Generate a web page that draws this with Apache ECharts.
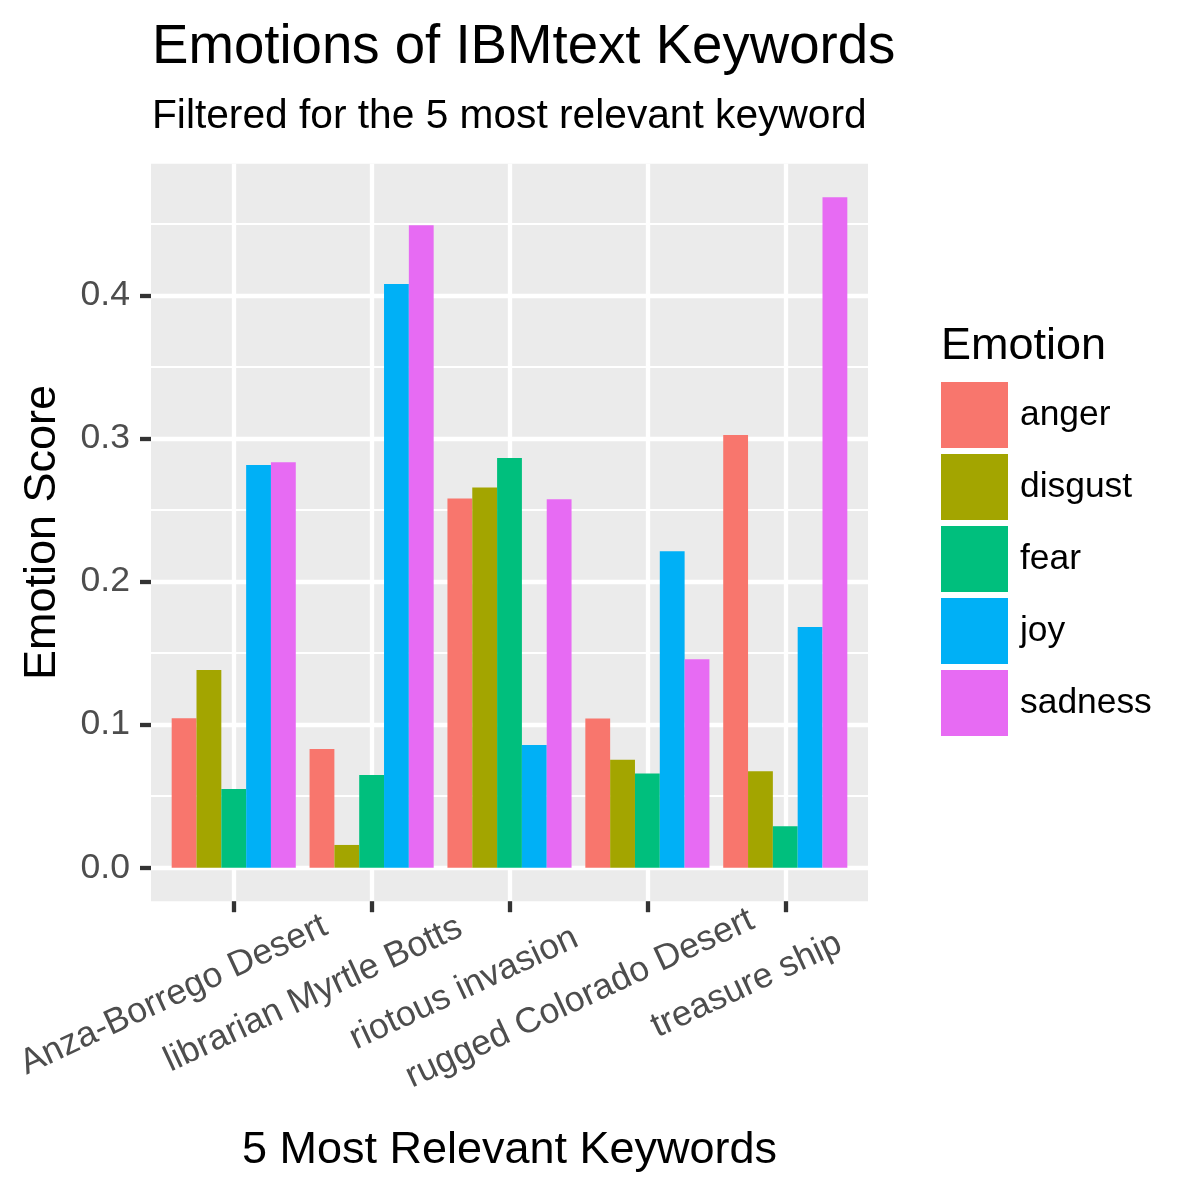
<!DOCTYPE html>
<html>
<head>
<meta charset="utf-8">
<script src="https://cdn.jsdelivr.net/npm/echarts@6/dist/echarts.min.js"></script>
<style>
html,body{margin:0;padding:0;background:#fff;}
#chart{width:1200px;height:1200px;}
</style>
</head>
<body>
<div id="chart"></div>
<script>
const keywords = ['Anza-Borrego Desert', 'librarian Myrtle Botts', 'riotous invasion', 'rugged Colorado Desert', 'treasure ship'];
const emotions = ['anger', 'disgust', 'fear', 'joy', 'sadness'];
const anger   = [0.1044, 0.0829, 0.2580, 0.1043, 0.3023];
const disgust = [0.1382, 0.0159, 0.2657, 0.0754, 0.0674];
const fear    = [0.0550, 0.0648, 0.2863, 0.0658, 0.0289];
const joy     = [0.2814, 0.4079, 0.0857, 0.2211, 0.1682];
const sadness = [0.2834, 0.4490, 0.2574, 0.1457, 0.4685];
const yTicks = [0, 0.1, 0.2, 0.3, 0.4];
const colors = ['#F8766D', '#A3A500', '#00BF7D', '#00B0F6', '#E76BF3'];

const FONT = '"Liberation Sans", Arial, Helvetica, sans-serif';
const seriesValues = [anger, disgust, fear, joy, sadness];

// panel geometry (pixels)
const panelL = 151, panelR = 868, panelT = 163.8, panelB = 901.2;
const zeroY = 867.7, pxPerUnit = 1431;
const yLo = (zeroY - panelB) / pxPerUnit;  // negative expansion
const yHi = (zeroY - panelT) / pxPerUnit;
const unitX = (panelR - panelL) / (keywords.length + 0.2);
const catL = panelL + 0.1 * unitX;
const catW = keywords.length * unitX;

// label anchoring: the tick sits ~68% along the rotated text
const ctx = document.createElement('canvas').getContext('2d');
const labelSize = 35.6;
ctx.font = labelSize + 'px ' + FONT;
const rich = {};
keywords.forEach((k, i) => {
  const w = ctx.measureText(k).width;
  rich['k' + i] = {
    fontSize: labelSize, fontFamily: FONT, color: '#4D4D4D',
    padding: [0, 0.366 * w + 10, 0, 0]
  };
});

const chart = echarts.init(document.getElementById('chart'), null, {renderer: 'canvas'});
const option = {
  animation: false,
  backgroundColor: '#ffffff',
  textStyle: {fontFamily: FONT},
  graphic: [{
    type: 'rect', z: -10, silent: true,
    shape: {x: panelL, y: panelT, width: panelR - panelL, height: panelB - panelT},
    style: {fill: '#EBEBEB'}
  }],
  title: [
    {text: 'Emotions of IBMtext Keywords', left: 152, top: 20.5, padding: 0,
     textStyle: {fontSize: 54.6, fontWeight: 'normal', color: '#000', fontFamily: FONT}},
    {text: 'Filtered for the 5 most relevant keyword', left: 152, top: 96, padding: 0,
     textStyle: {fontSize: 40.7, fontWeight: 'normal', color: '#000', fontFamily: FONT}},
    {text: 'Emotion', left: 941, top: 324.5, padding: 0,
     textStyle: {fontSize: 45, fontWeight: 'normal', color: '#000', fontFamily: FONT}}
  ],
  legend: {
    orient: 'vertical', left: 941, top: 382, padding: 0,
    itemWidth: 67, itemHeight: 66, itemGap: 6,
    icon: 'rect',
    data: emotions,
    textStyle: {fontSize: 35.4, color: '#000', fontFamily: FONT, padding: [0, 0, 0, 7]}
  },
  grid: [
    {left: panelL, right: 1200 - panelR, top: zeroY - 0.5 * pxPerUnit, bottom: 1200 - zeroY, outerBoundsMode: 'none', containLabel: false},
    {left: panelL, right: 1200 - panelR, top: zeroY - 0.4 * pxPerUnit, bottom: 1200 - zeroY, outerBoundsMode: 'none', containLabel: false},
    {left: catL, width: catW, top: panelT, bottom: 1200 - panelB, outerBoundsMode: 'none', containLabel: false}
  ],
  xAxis: [
    {gridIndex: 0, type: 'value', show: false, min: 0, max: 1},
    {gridIndex: 1, type: 'value', show: false, min: 0, max: 1},
    {gridIndex: 2, type: 'category', data: keywords, position: 'bottom',
     name: '5 Most Relevant Keywords', nameLocation: 'middle', nameGap: 226.4, nameMoveOverlap: false,
     nameTextStyle: {fontSize: 45, color: '#000', fontFamily: FONT},
     axisLine: {show: false, onZero: false},
     axisTick: {show: true, alignWithLabel: true, length: 11, lineStyle: {color: '#333333', width: 4.3}},
     splitLine: {show: true, alignWithLabel: true, lineStyle: {color: '#FFFFFF', width: 4.3}},
     axisLabel: {show: true, interval: 0, rotate: 25, align: 'center', verticalAlign: 'middle', margin: 66,
                 hideOverlap: false,
                 formatter: (v, i) => '{k' + i + '|' + v + '}', rich: rich}
    }
  ],
  yAxis: [
    {gridIndex: 0, type: 'value', min: 0, max: 0.5, interval: 0.1,
     axisLine: {show: false}, axisTick: {show: false}, axisLabel: {show: false},
     splitLine: {show: true, showMaxLine: false,
                 lineStyle: {color: ['#FFFFFF', '#FFFFFF', '#FFFFFF', '#FFFFFF', '#FFFFFF', 'rgba(0,0,0,0)'], width: 4.3}},
     minorTick: {show: false, splitNumber: 2},
     minorSplitLine: {show: true, lineStyle: {color: '#FFFFFF', width: 2.15}}
    },
    {gridIndex: 1, type: 'value', min: yTicks[0], max: yTicks[yTicks.length - 1], interval: 0.1,
     axisLine: {show: false},
     axisTick: {show: true, length: 11, lineStyle: {color: '#333333', width: 4.3}},
     axisLabel: {show: true, margin: 21, fontSize: 35.6, color: '#4D4D4D', fontFamily: FONT,
                 formatter: v => v.toFixed(1)},
     splitLine: {show: false}
    },
    {gridIndex: 2, type: 'value', min: yLo, max: yHi,
     name: 'Emotion Score', nameLocation: 'middle', nameGap: 100, nameRotate: 90,
     nameTextStyle: {fontSize: 45, color: '#000', fontFamily: FONT},
     axisLine: {show: false, onZero: false}, axisTick: {show: false}, axisLabel: {show: false},
     splitLine: {show: false}
    }
  ],
  series: emotions.map((e, i) => ({
    name: e, type: 'bar', xAxisIndex: 2, yAxisIndex: 2,
    data: seriesValues[i],
    barGap: '0%', barCategoryGap: '10%',
    itemStyle: {color: colors[i]},
    emphasis: {disabled: true}
  }))
};
chart.setOption(option);
</script>
</body>
</html>
